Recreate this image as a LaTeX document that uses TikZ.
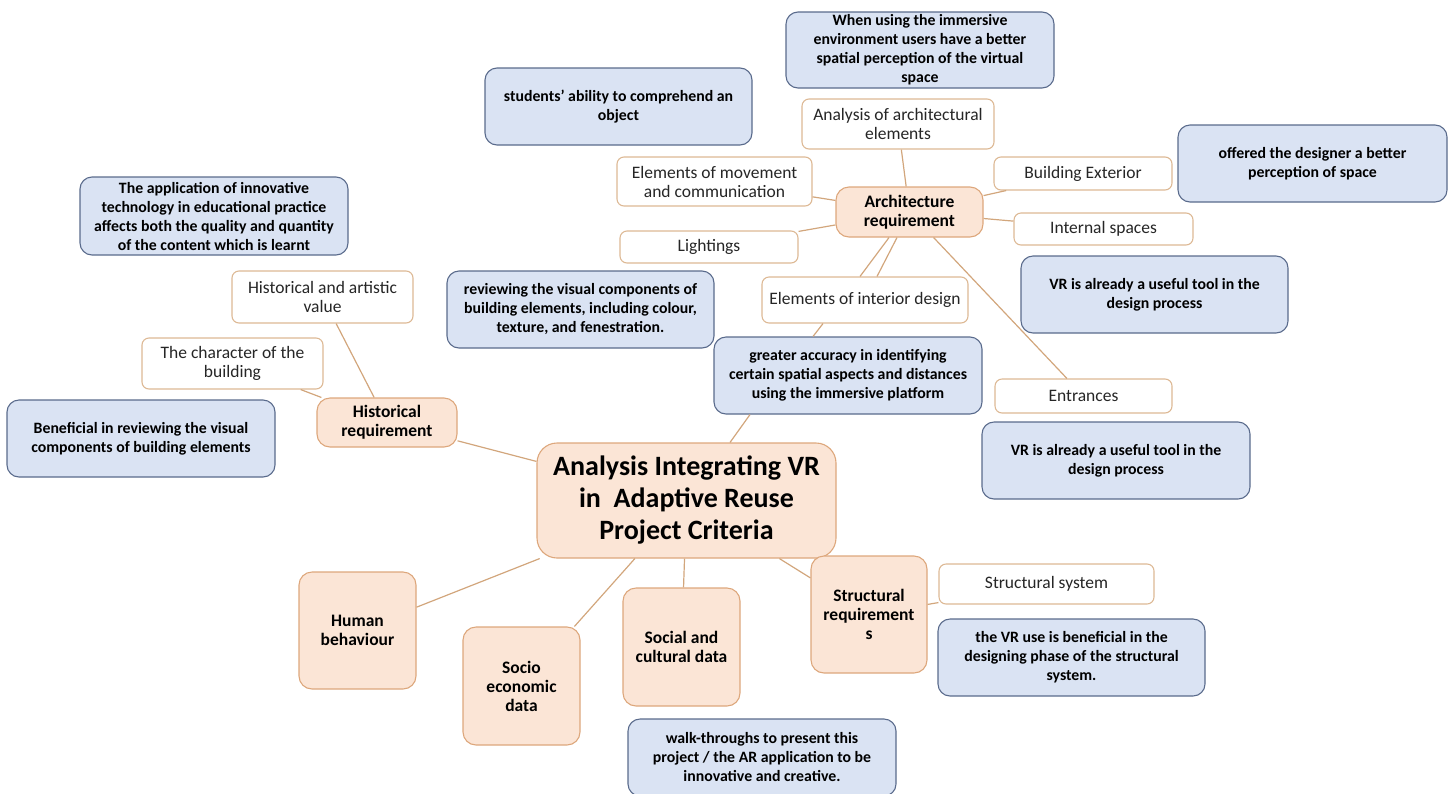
\documentclass[tikz,border=0pt]{standalone}
\usepackage{fontspec}
\setmainfont{Carlito}
\usetikzlibrary{calc}
\definecolor{vrorange}{HTML}{FBE5D6}
\definecolor{vrorangeline}{HTML}{DDA77C}
\definecolor{vrblue}{HTML}{DAE3F3}
\definecolor{vrblueline}{HTML}{5A6B8C}
\definecolor{vrtan}{HTML}{DDB995}
\definecolor{vrlink}{HTML}{D2A67C}

\begin{document}
\begin{tikzpicture}[x=1pt, y=-1pt,
  size/.style 2 args={minimum width=#1pt, minimum height=#2pt},
  note/.style={draw=vrblueline, line width=1.1pt, rounded corners=12pt, fill=vrblue,
    inner sep=0pt, align=center, font=\fontsize{15.8}{19}\selectfont\bfseries},
  sub/.style={draw=vrtan, line width=1.1pt, rounded corners=7pt, fill=white,
    inner sep=0pt, align=center, text=black!85, font=\fontsize{17.5}{19}\selectfont},
  crit/.style={draw=vrorangeline, line width=1.1pt, rounded corners=13pt, fill=vrorange,
    inner sep=0pt, align=center, font=\fontsize{17.5}{19}\selectfont\bfseries},
  link/.style={draw=vrlink, line width=1.2pt}]
  \useasboundingbox (0,0) rectangle (1453,793);

  % core
  \node[crit, size={299}{115}, rounded corners=20pt, font=\fontsize{28}{32}\selectfont\bfseries] (main) at (686.5,500.5)
    {Analysis Integrating VR\\in~ Adaptive Reuse\\Project Criteria};

  % criteria
  \node[crit, size={147}{50}] (arch) at (909.5,212) {Architecture\\requirement};
  \node[crit, size={140}{49}] (hist) at (387,422.5) {Historical\\requirement};
  \node[crit, size={117}{117}] (human) at (357.5,630.5) {Human\\behaviour};
  \node[crit, size={117}{118}] (socio) at (521.5,686) {Socio\\economic\\data};
  \node[crit, size={117}{118}] (social) at (681.5,647) {Social and\\cultural data};
  \node[crit, size={116}{117}] (struct) at (869,614.5) {Structural\\requirement\\s};

  % sub-criteria
  \node[sub, size={192}{50}] (elem) at (898,124) {Analysis of architectural\\elements};
  \node[sub, size={195}{49}] (move) at (714.5,181.5) {Elements of movement\\and communication};
  \node[sub, size={178}{33}] (exterior) at (1083,173.5) {Building Exterior};
  \node[sub, size={179}{32}] (internal) at (1103.5,229) {Internal spaces};
  \node[sub, size={178}{32}] (light) at (709,247) {Lightings};
  \node[sub, size={206}{46}] (interior) at (865,300) {Elements of interior design};
  \node[sub, size={177}{34}] (entr) at (1083.5,396) {Entrances};
  \node[sub, size={181}{52}] (value) at (322.5,297) {Historical and artistic\\value};
  \node[sub, size={181}{51}] (charac) at (232.5,363.5) {The character of the\\building};
  \node[sub, size={215}{40}] (system) at (1046.5,584) {Structural system};

  % findings
  \node[note, size={268}{76}] (immersive) at (920,50)
    {When using the immersive\\environment users have a better\\spatial perception of the virtual\\space};
  \node[note, size={267}{77}] (students) at (618.5,106.5) {students’ ability to comprehend an\\object};
  \node[note, size={269}{77}] (designer) at (1312.5,163.5) {offered the designer a better\\perception of space};
  \node[note, size={268}{78}] (educ) at (214,216)
    {The application of innovative\\technology in educational practice\\affects both the quality and quantity\\of the content which is learnt};
  \node[note, size={267}{77}] (visual) at (580.5,309.5)
    {reviewing the visual components of\\building elements, including colour,\\texture, and fenestration.};
  \node[note, size={267}{77}] (toolA) at (1154.5,294.5) {VR is already a useful tool in the\\design process};
  \node[note, size={268}{77}] (accur) at (848,375.5)
    {greater accuracy in identifying\\certain spatial aspects and distances\\using the immersive platform};
  \node[note, size={268}{77}] (benef) at (141,438.5)
    {Beneficial in reviewing the visual\\components of building elements};
  \node[note, size={268}{77}] (toolB) at (1116,460.5) {VR is already a useful tool in the\\design process};
  \node[note, size={267}{77}] (beam) at (1071.5,657.5)
    {the VR use is beneficial in the\\designing phase of the structural\\system.};
  \node[note, size={268}{77}] (walk) at (762,757.5)
    {walk-throughs to present this\\project / the AR application to be\\innovative and creative.};

  % links
  \draw[link] (main) -- (hist);
  \draw[link] (main) -- (human);
  \draw[link] (main) -- (socio);
  \draw[link] (main) -- (social);
  \draw[link] (main) -- (struct);
  \draw[link] ([xshift=43.5pt]main.north) -- ([xshift=-98pt]accur.south);
  \draw[link] (hist) -- (value);
  \draw[link] (hist) -- (charac);
  \draw[link] (arch) -- (elem);
  \draw[link] (arch) -- (move);
  \draw[link] (arch) -- (light);
  \draw[link] (arch) -- (exterior);
  \draw[link] (arch) -- (internal);
  \draw[link] (arch) -- (entr);
  \draw[link] ([xshift=-20.5pt]arch.south) -- ([xshift=-5pt]interior.north);
  \draw[link] ([xshift=-12.5pt]arch.south) -- ([xshift=12pt]interior.north);
  \draw[link] ([xshift=-42pt]interior.south) -- ([xshift=-35pt]accur.north);
  \draw[link] (struct) -- (system);
\end{tikzpicture}
\end{document}
